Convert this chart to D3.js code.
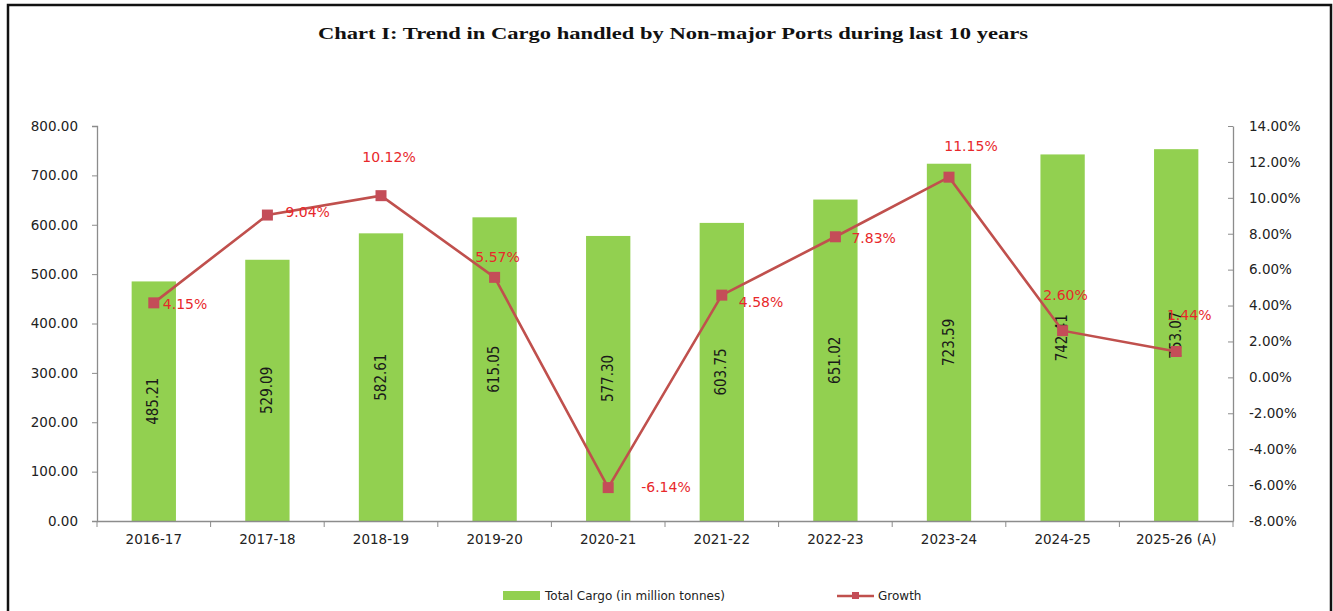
<!DOCTYPE html>
<html>
<head>
<meta charset="utf-8">
<script src="https://cdn.jsdelivr.net/npm/d3@7"></script>
<style>
  body { margin: 0; background: #fff; }
  svg { display: block; }
</style>
</head>
<body>
<svg id="chart" width="1333" height="611"></svg>
<script>
  const years = ["2016-17", "2017-18", "2018-19", "2019-20", "2020-21", "2021-22", "2022-23", "2023-24", "2024-25", "2025-26 (A)"];
  const cargo = [485.21, 529.09, 582.61, 615.05, 577.30, 603.75, 651.02, 723.59, 742.41, 753.07];
  const growth = [4.15, 9.04, 10.12, 5.57, -6.14, 4.58, 7.83, 11.15, 2.60, 1.44];
  const leftTicks = [0, 100, 200, 300, 400, 500, 600, 700, 800];
  const rightTicks = [-8, -6, -4, -2, 0, 2, 4, 6, 8, 10, 12, 14];

  // where each growth label sits relative to its marker
  const labelPlace = [
    {anchor: "start", dx: 9, dy: 2},
    {anchor: "start", dx: 18, dy: -2},
    {anchor: "middle", dx: 8, dy: -38},
    {anchor: "middle", dx: 3, dy: -19},
    {anchor: "start", dx: 33, dy: 0},
    {anchor: "start", dx: 17, dy: 8},
    {anchor: "start", dx: 16, dy: 2},
    {anchor: "middle", dx: 22, dy: -30},
    {anchor: "middle", dx: 3, dy: -35},
    {anchor: "middle", dx: 13, dy: -36}
  ];

  const svg = d3.select("#chart");
  const plotLeft = 97, plotRight = 1233, plotTop = 126, plotBottom = 521;
  const axisFont = "'DejaVu Sans', Verdana, sans-serif";
  const lineColor = "#c0504d";
  const labelRed = "#e8282b";

  // frame
  svg.append("path")
    .attr("d", "M8,612 L8,5 L1331,5 L1331,612")
    .attr("fill", "none")
    .attr("stroke", "#111")
    .attr("stroke-width", 2.5);

  svg.append("text")
    .attr("x", 673)
    .attr("y", 39)
    .attr("text-anchor", "middle")
    .attr("font-family", "'Liberation Serif', 'Times New Roman', serif")
    .attr("font-weight", "bold")
    .attr("font-size", 17)
    .attr("textLength", 710)
    .attr("lengthAdjust", "spacingAndGlyphs")
    .attr("fill", "#111")
    .text("Chart I: Trend in Cargo handled by Non-major Ports during last 10 years");

  const x = d3.scaleBand()
    .domain(years)
    .range([plotLeft, plotRight])
    .paddingInner(0.61)
    .paddingOuter(0.305);

  const y = d3.scaleLinear().domain([0, 800]).range([plotBottom, plotTop]);
  const y2 = d3.scaleLinear().domain([-8, 14]).range([plotBottom, plotTop]);

  // bars
  svg.selectAll(".bar")
    .data(cargo)
    .enter()
    .append("rect")
    .attr("class", "bar")
    .attr("x", (d, i) => x(years[i]))
    .attr("y", d => y(d))
    .attr("width", x.bandwidth())
    .attr("height", d => y(0) - y(d))
    .attr("fill", "#92d050");

  // bar value labels, rotated
  svg.selectAll(".barlabel")
    .data(cargo)
    .enter()
    .append("text")
    .attr("class", "barlabel")
    .attr("transform", (d, i) => {
      const bx = x(years[i]) + x.bandwidth() / 2;
      const by = (y(d) + y(0)) / 2;
      return `translate(${bx},${by}) rotate(-90)`;
    })
    .attr("text-anchor", "middle")
    .attr("dominant-baseline", "middle")
    .attr("font-family", "'DejaVu Sans Condensed', 'Liberation Sans Narrow', sans-serif")
    .attr("font-size", 15)
    .attr("fill", "#1a1a1a")
    .text(d => d.toFixed(2));

  // left axis
  const yAxis = svg.append("g")
    .attr("transform", `translate(${plotLeft},0)`)
    .call(d3.axisLeft(y).tickValues(leftTicks).tickSize(5).tickPadding(14).tickFormat(d => d.toFixed(2)));

  // right axis, ticks on the inside
  const y2Axis = svg.append("g")
    .attr("transform", `translate(${plotRight},0)`)
    .call(d3.axisRight(y2).tickValues(rightTicks).tickSize(0).tickPadding(16).tickFormat(d => d.toFixed(2) + "%"));
  y2Axis.selectAll(".tick").append("line")
    .attr("x1", -5).attr("x2", 0);

  // bottom axis, ticks between categories
  const xAxis = svg.append("g")
    .attr("transform", `translate(0,${plotBottom})`)
    .call(d3.axisBottom(x).tickSize(0).tickPadding(13));
  const step = x.step();
  xAxis.selectAll(".bt")
    .data(d3.range(years.length + 1))
    .enter()
    .append("line")
    .attr("class", "bt")
    .attr("x1", i => plotLeft + i * step)
    .attr("x2", i => plotLeft + i * step)
    .attr("y1", 0)
    .attr("y2", 6)
    .attr("stroke", "#8c8c8c");

  [yAxis, y2Axis, xAxis].forEach(g => {
    g.select(".domain").attr("stroke", "#8c8c8c").attr("stroke-width", 1.3);
    g.selectAll(".tick line").attr("stroke", "#8c8c8c");
    g.selectAll("text")
      .attr("font-family", axisFont)
      .attr("font-size", 13.5)
      .attr("fill", "#222");
  });

  // growth line
  const cx = i => x(years[i]) + x.bandwidth() / 2;
  const line = d3.line()
    .x((d, i) => cx(i))
    .y(d => y2(d));

  svg.append("path")
    .datum(growth)
    .attr("d", line)
    .attr("fill", "none")
    .attr("stroke", lineColor)
    .attr("stroke-width", 2.6);

  svg.selectAll(".marker")
    .data(growth)
    .enter()
    .append("rect")
    .attr("class", "marker")
    .attr("x", (d, i) => cx(i) - 5.5)
    .attr("y", d => y2(d) - 5.5)
    .attr("width", 11)
    .attr("height", 11)
    .attr("fill", "#c44d58");

  svg.selectAll(".glabel")
    .data(growth)
    .enter()
    .append("text")
    .attr("class", "glabel")
    .attr("x", (d, i) => cx(i) + labelPlace[i].dx)
    .attr("y", (d, i) => y2(d) + labelPlace[i].dy)
    .attr("text-anchor", (d, i) => labelPlace[i].anchor)
    .attr("dominant-baseline", "middle")
    .attr("font-family", axisFont)
    .attr("font-size", 14)
    .attr("fill", labelRed)
    .text(d => d.toFixed(2) + "%");

  // legend
  const legend = svg.append("g");
  legend.append("rect")
    .attr("x", 503).attr("y", 591)
    .attr("width", 37).attr("height", 9)
    .attr("fill", "#92d050");
  legend.append("text")
    .attr("x", 545).attr("y", 596)
    .attr("dominant-baseline", "middle")
    .attr("font-family", axisFont)
    .attr("font-size", 12)
    .attr("fill", "#222")
    .text("Total Cargo (in million tonnes)");
  legend.append("line")
    .attr("x1", 837).attr("x2", 874)
    .attr("y1", 596).attr("y2", 596)
    .attr("stroke", lineColor)
    .attr("stroke-width", 2.6);
  legend.append("rect")
    .attr("x", 852).attr("y", 592)
    .attr("width", 7).attr("height", 7)
    .attr("fill", "#c44d58");
  legend.append("text")
    .attr("x", 878).attr("y", 596)
    .attr("dominant-baseline", "middle")
    .attr("font-family", axisFont)
    .attr("font-size", 12)
    .attr("fill", "#222")
    .text("Growth");
</script>
</body>
</html>
